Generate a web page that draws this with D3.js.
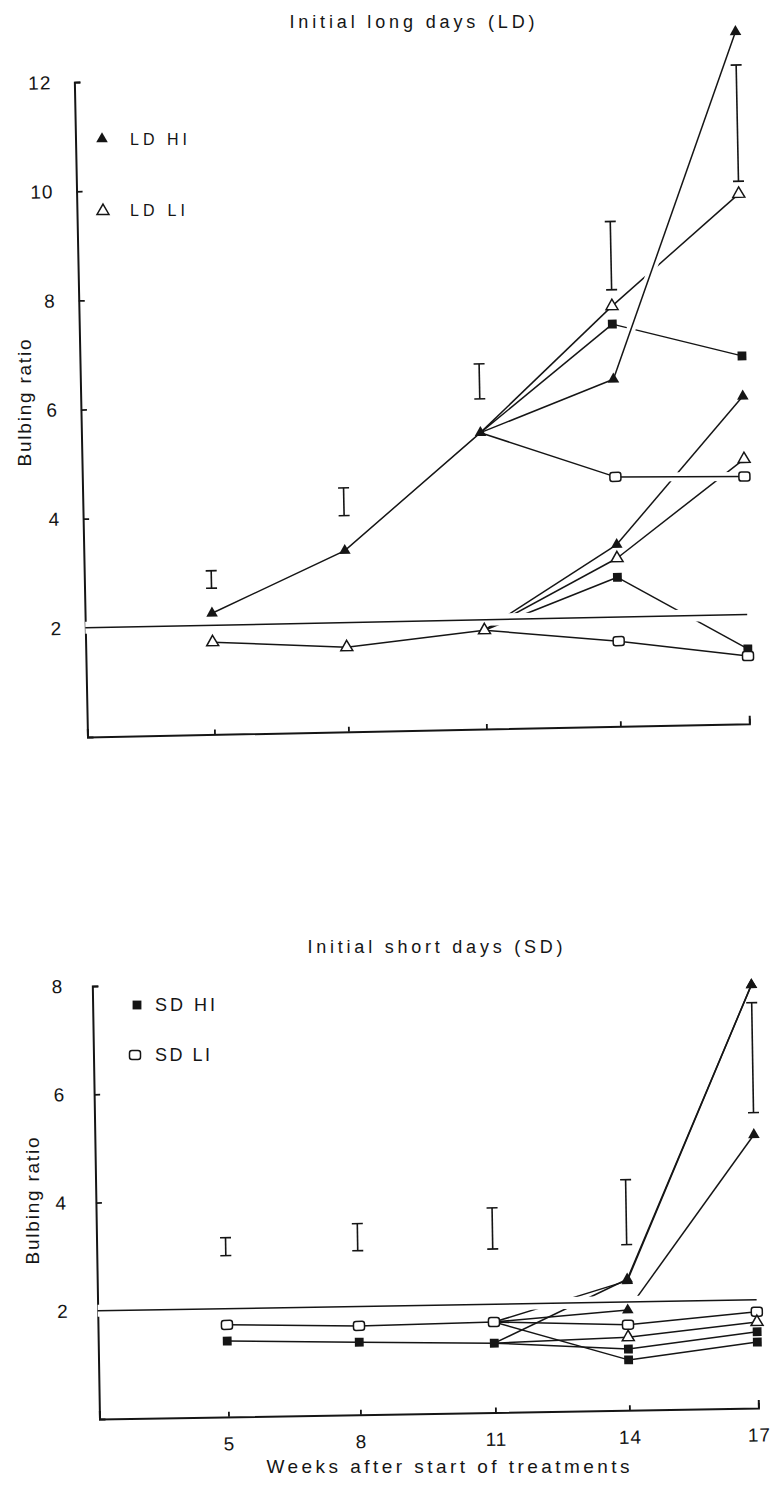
<!DOCTYPE html>
<html>
<head>
<meta charset="utf-8">
<script src="https://cdn.jsdelivr.net/npm/d3@7"></script>
<style>
  body { margin: 0; background: #fff; }
  svg { display: block; }
  text { font-family: "Liberation Sans", Arial, sans-serif; fill: #151515; }
</style>
</head>
<body>
<svg id="fig" width="771" height="1485"></svg>
<script>
// ---- data -------------------------------------------------------------
const weeks = [5, 8, 11, 14, 17];          // sampling weeks
const preWeeks = [5, 8, 11];               // before the transfer
const postWeeks = [14, 17];                // after the transfer at week 11
const ldTicks = [2, 4, 6, 8, 10, 12];
const sdTicks = [2, 4, 6, 8];
const bulbThreshold = 2;

// Initial long days (LD)
const ldHI = [2.22, 3.32, 5.43];
const ldLI = [1.69, 1.55, 1.81];
const ldHI_toLDHI = [6.36, 12.68];
const ldHI_toLDLI = [7.70, 9.71];
const ldHI_toSDHI = [7.37, 6.74];
const ldHI_toSDLI = [4.57, 4.53];
const ldLI_toLDHI = [3.33, 6.00];
const ldLI_toLDLI = [3.08, 4.85];
const ldLI_toSDHI = [2.73, 1.37];
const ldLI_toSDLI = [1.56, 1.24];
const ldBarLow  = [2.68, 3.96, 6.05, 8.00, 9.94];
const ldBarHigh = [3.00, 4.47, 6.69, 9.25, 12.07];

// Initial short days (SD)
const sdHI = [1.40, 1.34, 1.28];
const sdLI = [1.70, 1.64, 1.67];
const sdLI_toLDHI = [2.39, 7.82];
const sdLI_toLDHIb = [1.85, 5.05];
const sdLI_toSDLI = [1.58, 1.78];
const sdLI_toSDHI = [0.93, 1.22];
const sdHI_toLDHI = [2.42, 7.82];
const sdHI_toLDLI = [1.35, 1.59];
const sdHI_toSDHI = [1.13, 1.41];
const sdBarLow  = [2.98, 3.03, 3.02, 3.06, 5.46];
const sdBarHigh = [3.31, 3.53, 3.78, 4.26, 7.49];

// ---- drawing ----------------------------------------------------------
const INK = "#151515";
const svg = d3.select("#fig");

const toPts = (ws, vs) => ws.map((w, i) => ({ w, v: vs[i] }));
const branch = (origin, after, mark, key) => ({
  key, mark,
  pts: [{ w: 11, v: origin[2] }].concat(toPts(postWeeks, after))
});

function drawMarker(g, mark, px, py) {
  if (mark === "triFilled") {
    g.append("path").attr("transform", `translate(${px},${py})`)
      .attr("d", d3.symbol(d3.symbolTriangle, 58)()).attr("fill", INK);
  } else if (mark === "triOpen") {
    g.append("path").attr("transform", `translate(${px},${py})`)
      .attr("d", d3.symbol(d3.symbolTriangle, 62)())
      .attr("fill", "#fff").attr("stroke", INK).attr("stroke-width", 1.5);
  } else if (mark === "sqFilled") {
    g.append("path").attr("transform", `translate(${px},${py})`)
      .attr("d", d3.symbol(d3.symbolSquare, 78)()).attr("fill", INK);
  } else {
    g.append("rect").attr("x", px - 5.5).attr("y", py - 4.5)
      .attr("width", 11).attr("height", 9).attr("rx", 2.5)
      .attr("fill", "#fff").attr("stroke", INK).attr("stroke-width", 1.5);
  }
}

function panel(cfg) {
  const g = svg.append("g")
    .attr("transform", `translate(${cfg.ox},${cfg.oy}) rotate(${cfg.rot})`);
  // week axis: hand-ruled spacing, so a piecewise-linear scale
  const x = d3.scaleLinear().domain([cfg.xStart].concat(weeks)).range(cfg.xRange);
  const y = d3.scaleLinear().domain(cfg.yDomain).range([0, -cfg.h]);
  const line = d3.line().x(d => x(d.w)).y(d => y(d.v));

  const stroke = (pts, halo) => {
    if (halo) {
      g.append("path").attr("d", line(pts)).attr("fill", "none")
        .attr("stroke", "#fff").attr("stroke-width", halo);
    }
    g.append("path").attr("d", line(pts)).attr("fill", "none")
      .attr("stroke", INK).attr("stroke-width", 1.5);
  };

  // axes
  const yAxis = d3.axisLeft(y).tickValues(cfg.yTicks).tickFormat(d3.format("d"))
    .tickSize(-6).tickSizeOuter(-6).tickPadding(cfg.yPad);
  const xAxis = d3.axisBottom(x).tickValues(weeks)
    .tickFormat(cfg.xLabels ? d3.format("d") : () => "")
    .tickSize(-5).tickSizeOuter(-8).tickPadding(20);
  const ya = g.append("g").call(yAxis);
  const xa = g.append("g").call(xAxis);
  [ya, xa].forEach(a => {
    a.select(".domain").attr("stroke", INK).attr("stroke-width", 2);
    a.selectAll(".tick line").attr("stroke", INK).attr("stroke-width", 1.8);
    a.selectAll(".tick text").attr("fill", INK)
      .style("font-size", "19px").style("letter-spacing", "1px")
      .style("font-family", '"Liberation Sans", Arial, sans-serif');
  });

  // initial treatment lines
  cfg.mains.forEach(m => stroke(toPts(preWeeks, m.values)));
  // transfers: week 11 -> 14
  cfg.branches.forEach(b => stroke(b.pts.slice(0, 2)));
  // transfers: week 14 -> 17 (lines that are crossed over)
  cfg.branches.filter(b => !cfg.onTop.includes(b.key))
    .forEach(b => stroke(b.pts.slice(1)));
  // bulbing threshold
  stroke([{ w: cfg.xStart, v: bulbThreshold }, { w: 17, v: bulbThreshold }], 12);
  // transfers drawn over the others
  cfg.onTop.forEach(k => {
    const b = cfg.branches.find(d => d.key === k);
    stroke(b.pts.slice(1), 9);
  });

  // markers
  cfg.mains.forEach(m => toPts(preWeeks, m.values)
    .forEach(p => drawMarker(g, m.mark, x(p.w), y(p.v))));
  cfg.branches.forEach(b => b.pts.slice(1)
    .forEach(p => drawMarker(g, b.mark, x(p.w), y(p.v))));

  // LSD bars
  weeks.forEach((w, i) => {
    const bx = x(w), y0 = y(cfg.barLow[i]), y1 = y(cfg.barHigh[i]);
    const bar = g.append("g").attr("stroke", INK).attr("stroke-width", 1.6);
    bar.append("line").attr("x1", bx).attr("x2", bx).attr("y1", y0).attr("y2", y1);
    bar.append("line").attr("x1", bx - 5.5).attr("x2", bx + 5.5).attr("y1", y0).attr("y2", y0);
    bar.append("line").attr("x1", bx - 5.5).attr("x2", bx + 5.5).attr("y1", y1).attr("y2", y1);
  });
  return g;
}

// Panel: initial long days
panel({
  ox: 87.5, oy: 737, rot: -1.15,
  xStart: 2.15, xRange: [0, 127, 261, 399, 533, 662], yDomain: [0, 12], h: 655,
  yTicks: ldTicks, yPad: 23, xLabels: false,
  mains: [{ values: ldHI, mark: "triFilled" }, { values: ldLI, mark: "triOpen" }],
  branches: [
    branch(ldHI, ldHI_toLDLI, "triOpen", "hi-ldli"),
    branch(ldHI, ldHI_toSDHI, "sqFilled", "hi-sdhi"),
    branch(ldHI, ldHI_toSDLI, "sqOpen", "hi-sdli"),
    branch(ldHI, ldHI_toLDHI, "triFilled", "hi-ldhi"),
    branch(ldLI, ldLI_toLDHI, "triFilled", "li-ldhi"),
    branch(ldLI, ldLI_toLDLI, "triOpen", "li-ldli"),
    branch(ldLI, ldLI_toSDHI, "sqFilled", "li-sdhi"),
    branch(ldLI, ldLI_toSDLI, "sqOpen", "li-sdli")
  ],
  onTop: ["hi-sdli", "hi-ldhi"],
  barLow: ldBarLow, barHigh: ldBarHigh
});

// Panel: initial short days
panel({
  ox: 99.5, oy: 1419, rot: -0.95,
  xStart: 2.08, xRange: [0, 129, 261, 396, 530, 659], yDomain: [0, 8], h: 433,
  yTicks: sdTicks, yPad: 29, xLabels: true,
  mains: [{ values: sdLI, mark: "sqOpen" }, { values: sdHI, mark: "sqFilled" }],
  branches: [
    branch(sdLI, sdLI_toLDHI, "triFilled", "li-ldhi"),
    branch(sdLI, sdLI_toLDHIb, "triFilled", "li-ldhi2"),
    branch(sdLI, sdLI_toSDLI, "sqOpen", "li-sdli"),
    branch(sdLI, sdLI_toSDHI, "sqFilled", "li-sdhi"),
    branch(sdHI, sdHI_toLDHI, "triFilled", "hi-ldhi"),
    branch(sdHI, sdHI_toLDLI, "triOpen", "hi-ldli"),
    branch(sdHI, sdHI_toSDHI, "sqFilled", "hi-sdhi")
  ],
  onTop: [],
  barLow: sdBarLow, barHigh: sdBarHigh
});

// titles and axis captions
const label = (txt, cx, cy, size, len, rot) => {
  const t = svg.append("text").text(txt)
    .attr("text-anchor", "middle").attr("dy", "0.35em")
    .attr("textLength", len).attr("lengthAdjust", "spacing")
    .style("font-size", size + "px");
  if (rot) t.attr("transform", `translate(${cx},${cy}) rotate(${rot})`);
  else t.attr("x", cx).attr("y", cy);
  return t;
};
label("Initial long days (LD)", 412, 22, 18, 245);
label("Initial short days (SD)", 435, 947, 18, 255);
label("Bulbing ratio", 24, 403, 19, 127, -90);
label("Bulbing ratio", 32, 1201, 19, 127, -90);
label("Weeks after start of treatments", 448, 1466, 19, 363);

// legends
const legendText = (txt, x0, cy, size, len) =>
  svg.append("text").text(txt).attr("x", x0).attr("y", cy).attr("dy", "0.35em")
    .attr("textLength", len).attr("lengthAdjust", "spacing")
    .style("font-size", size + "px");
drawMarker(svg, "triFilled", 102, 139);
legendText("LD HI", 130, 139, 16, 57);
drawMarker(svg, "triOpen", 103, 211);
legendText("LD LI", 130, 210, 16, 55);
drawMarker(svg, "sqFilled", 137, 1005);
legendText("SD HI", 155, 1005, 18, 60);
drawMarker(svg, "sqOpen", 135, 1055);
legendText("SD LI", 155, 1055, 18, 55);
</script>
</body>
</html>
